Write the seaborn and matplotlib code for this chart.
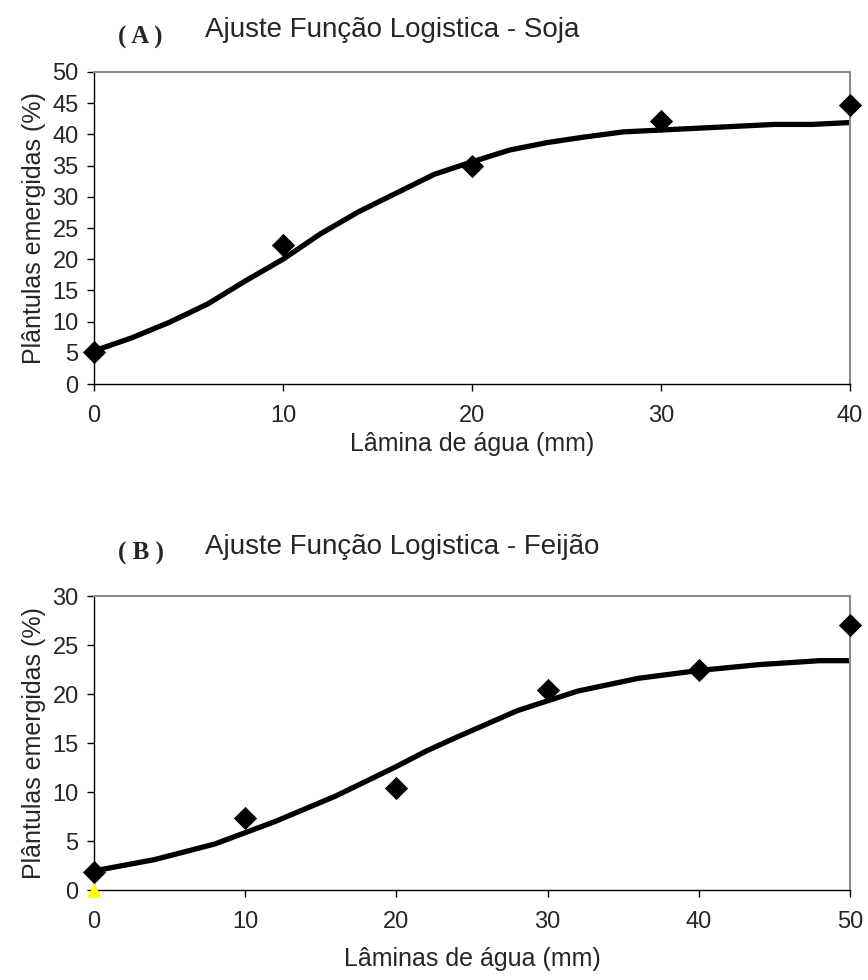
import matplotlib
matplotlib.use("Agg")
import matplotlib.pyplot as plt
import seaborn as sns
import pandas as pd

sns.set_theme(style="white")
plt.rcParams['font.family'] = ['Liberation Sans', 'DejaVu Sans']

# Panel A - Soja
soja_x = [0, 10, 20, 30, 40]
soja_y = [5.1, 22.2, 35.0, 42.2, 44.7]
soja_fit_x = [0, 2, 4, 6, 8, 10, 12, 14, 16, 18, 20, 22, 24, 26, 28, 30, 32, 34, 36, 38, 40]
soja_fit_y = [5.3, 7.4, 9.9, 12.8, 16.5, 20.0, 24.1, 27.6, 30.6, 33.6, 35.6, 37.5, 38.7, 39.6, 40.4, 40.7, 41.0, 41.3, 41.6, 41.6, 41.9]

# Panel B - Feijão
feijao_x = [0, 10, 20, 30, 40, 50]
feijao_y = [1.8, 7.3, 10.4, 20.4, 22.4, 27.0]
feijao_fit_x = [0, 4, 8, 12, 16, 20, 22, 24, 28, 32, 36, 40, 44, 48, 50]
feijao_fit_y = [1.95, 3.1, 4.7, 7.0, 9.6, 12.6, 14.2, 15.6, 18.3, 20.3, 21.6, 22.4, 23.0, 23.4, 23.4]
extra_x = [0]
extra_y = [0]

W, H = 868, 980
fig = plt.figure(figsize=(W / 100, H / 100), dpi=100)
TFS = 17
LFS = 18

def style_axes(ax, xmax, ymax, ystep, xstep):
    ax.set_xlim(0, xmax)
    ax.set_ylim(0, ymax)
    ax.set_xticks(range(0, xmax + 1, xstep))
    ax.set_yticks(range(0, ymax + 1, ystep))
    for s in ['top', 'right']:
        ax.spines[s].set_color('#8c8c8c')
        ax.spines[s].set_linewidth(1.5)
    for s in ['left', 'bottom']:
        ax.spines[s].set_color('black')
        ax.spines[s].set_linewidth(1.0)
    ax.tick_params(axis='both', which='major', direction='out', length=5, width=1,
                   color='black', labelsize=TFS, pad=6, left=True, bottom=True)
    ax.tick_params(axis='x', pad=10)
    ax.grid(False)
    ax.set_facecolor('white')

# Panel A
axA = fig.add_axes([94 / W, 1 - 384 / H, (850 - 94) / W, (384 - 72) / H])
dfA_fit = pd.DataFrame({'x': soja_fit_x, 'y': soja_fit_y})
dfA_pts = pd.DataFrame({'x': soja_x, 'y': soja_y})
sns.lineplot(data=dfA_fit, x='x', y='y', ax=axA, color='black', linewidth=3.8, sort=False)
sns.scatterplot(data=dfA_pts, x='x', y='y', ax=axA, marker='D', s=140, color='black',
                edgecolor='black', linewidth=0, clip_on=False, zorder=5)
style_axes(axA, 40, 50, 5, 10)
axA.set_xlabel('Lâmina de água (mm)', fontsize=LFS, labelpad=4)
axA.set_ylabel('Plântulas emergidas (%)', fontsize=LFS, labelpad=5)

# Panel B
axB = fig.add_axes([94 / W, 1 - 890 / H, (850 - 94) / W, (890 - 596) / H])
dfB_fit = pd.DataFrame({'x': feijao_fit_x, 'y': feijao_fit_y})
dfB_pts = pd.DataFrame({'x': feijao_x, 'y': feijao_y})
sns.lineplot(data=dfB_fit, x='x', y='y', ax=axB, color='black', linewidth=3.8, sort=False)
sns.scatterplot(data=dfB_pts, x='x', y='y', ax=axB, marker='D', s=140, color='black',
                edgecolor='black', linewidth=0, clip_on=False, zorder=5)
sns.scatterplot(x=extra_x, y=extra_y, ax=axB, marker='^', s=110, color='#ffff00',
                edgecolor='#ffff00', linewidth=0, clip_on=False, zorder=6)
style_axes(axB, 50, 30, 5, 10)
axB.set_xlabel('Lâminas de água (mm)', fontsize=LFS, labelpad=10)
axB.set_ylabel('Plântulas emergidas (%)', fontsize=LFS, labelpad=5)

# Titles
fig.text(118 / W, 1 - 37 / H, '( A )', fontsize=18, fontweight='bold',
         family=['Liberation Serif', 'DejaVu Serif'], ha='left', va='center')
fig.text(205 / W, 1 - 30 / H, 'Ajuste Função Logistica - Soja', fontsize=20,
         ha='left', va='center')
fig.text(118 / W, 1 - 553 / H, '( B )', fontsize=18, fontweight='bold',
         family=['Liberation Serif', 'DejaVu Serif'], ha='left', va='center')
fig.text(205 / W, 1 - 547 / H, 'Ajuste Função Logistica - Feijão', fontsize=20,
         ha='left', va='center')

fig.savefig('out.png', dpi=100, facecolor='white')
